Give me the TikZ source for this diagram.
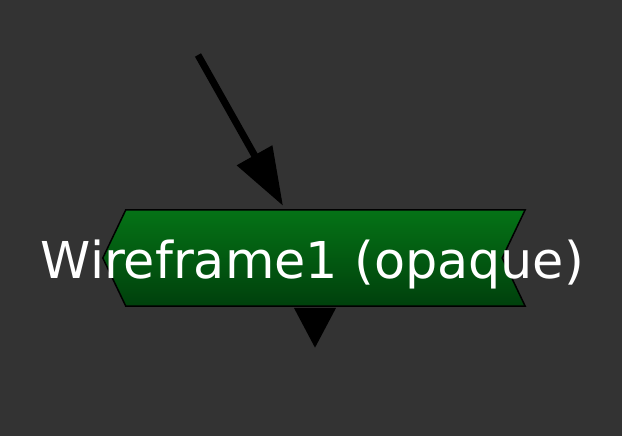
\documentclass[tikz,border=0pt]{standalone}
\usepackage{fontspec}
\setmainfont{DejaVu Sans}
\usepackage{xcolor}
\usetikzlibrary{arrows.meta, positioning}
\definecolor{bg}{RGB}{51,51,51}
\definecolor{greentop}{RGB}{5,115,22}
\definecolor{greenbot}{RGB}{0,64,12}

\begin{document}
\begin{tikzpicture}[x=1pt,y=1pt]
    \tikzstyle{box}=[shape=rectangle,inner sep=0pt,minimum width=399pt,minimum height=96pt]
    \tikzstyle{boxfill}=[draw=black,line width=1.5pt,top color=greentop,bottom color=greenbot]
    \tikzstyle{title}=[text=white,font=\fontsize{50.8}{60}\selectfont,inner sep=0pt,anchor=base]
    \tikzstyle{wire}=[draw=black,line width=7pt]

    \fill[bg] (0,0) rectangle (622,436);
    \useasboundingbox (0,0) rectangle (622,436);

    \node[box] (W) at (325.5,178) {};
    \coordinate (S) at (198,381);
    \coordinate (T) at (315,88);

    \shade[boxfill] (W.north west) -- (W.north east) -- ([xshift=-23pt]W.east)
        -- (W.south east) -- (W.south west) -- ([xshift=-23pt]W.west) -- cycle;
    \node[title] (L) at ([xshift=-13pt,yshift=-21pt]W.center) {Wireframe1 (opaque)};

    \draw[wire,-{Triangle[length=58pt,width=39pt]}]
    (S) -- ([xshift=-42.5pt,yshift=4pt]W.north);
    \draw[wire,-{Triangle[length=40pt,width=40pt]},shorten <=2pt]
    ([xshift=-10.5pt]W.south) -- (T);
\end{tikzpicture}
\end{document}
